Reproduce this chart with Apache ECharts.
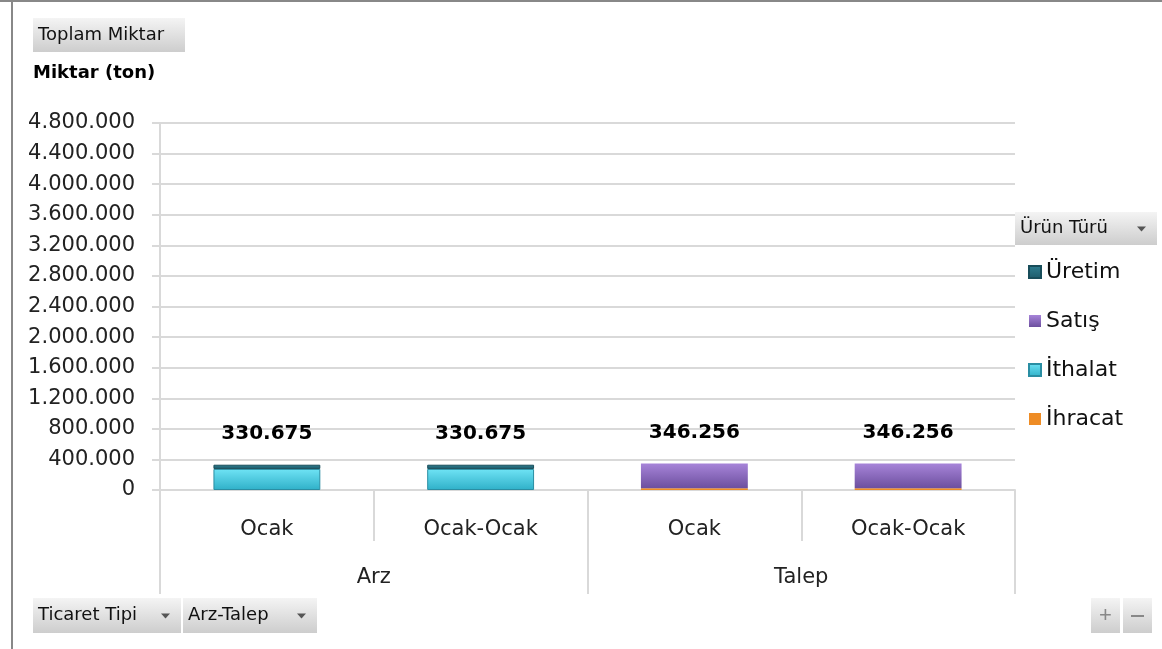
<!DOCTYPE html>
<html>
<head>
<meta charset="utf-8">
<script src="https://cdn.jsdelivr.net/npm/echarts@6/dist/echarts.min.js"></script>
<style>
  html, body { margin: 0; padding: 0; background: #fff; }
  #chart { width: 1162px; height: 649px; }
</style>
</head>
<body>
<div id="chart"></div>
<script>
// aylar ve ticaret tipi
const categories = ['Ocak', 'Ocak-Ocak', 'Ocak', 'Ocak-Ocak']
const groups = ['Arz', 'Talep']
// seriler (ton)
const uretim = [55000, 55000, null, null]
const satis = [null, null, 324256, 324256]
const ithalat = [275675, 275675, null, null]
const ihracat = [null, null, 22000, 22000]
const totals = [330675, 330675, 346256, 346256]
const legendOrder = ['Üretim', 'Satış', 'İthalat', 'İhracat']

const FONT = '"DejaVu Sans", sans-serif'

function fmt(v) {
  return String(v).replace(/\B(?=(\d{3})+(?!\d))/g, '.')
}

function grad(top, bottom) {
  return new echarts.graphic.LinearGradient(0, 0, 0, 1, [
    {offset: 0, color: top},
    {offset: 1, color: bottom}
  ])
}

const totalLabel = {
  show: true,
  position: 'top',
  distance: 21,
  fontFamily: FONT,
  fontSize: 20,
  fontWeight: 'bold',
  color: '#000',
  formatter: function (p) {
    return fmt(totals[p.dataIndex])
  }
}

function button(x, y, w, h, text, arrow) {
  const els = [{
    type: 'rect',
    shape: {x: x, y: y, width: w, height: h},
    style: {fill: grad('#f4f4f4', '#cdcdcd')}
  }, {
    type: 'text',
    style: {x: x + 5, y: y + h / 2, text: text, fontFamily: FONT, fontSize: 18,
      fill: '#111', verticalAlign: 'middle'}
  }]
  if (arrow) {
    const ax = x + w - 20, ay = y + h / 2
    els.push({
      type: 'polygon',
      shape: {points: [[ax, ay - 2], [ax + 9, ay - 2], [ax + 4.5, ay + 3]]},
      style: {fill: '#555'}
    })
  }
  return els
}

const chart = echarts.init(document.getElementById('chart'))
const option = {
  animation: false,
  textStyle: {fontFamily: FONT},
  grid: {left: 160, right: 147, top: 123, bottom: 159},
  legend: {
    orient: 'vertical',
    left: 1028,
    top: 261,
    padding: 0,
    itemWidth: 12,
    itemHeight: 12,
    itemGap: 27,
    icon: 'rect',
    data: legendOrder,
    textStyle: {fontFamily: FONT, fontSize: 22, color: '#111'}
  },
  xAxis: [{
    type: 'category',
    data: categories,
    axisLine: {lineStyle: {color: '#d9d9d9', width: 2}},
    axisTick: {show: true, length: 51, interval: 0, lineStyle: {color: '#d9d9d9', width: 2}},
    axisLabel: {margin: 29, fontSize: 21, color: '#222', fontFamily: FONT}
  }, {
    type: 'category',
    data: groups,
    position: 'bottom',
    axisLine: {show: false},
    axisTick: {show: true, length: 104, lineStyle: {color: '#d9d9d9', width: 2}},
    axisLabel: {margin: 77, fontSize: 21, color: '#222', fontFamily: FONT}
  }],
  yAxis: {
    type: 'value',
    min: 0,
    max: 4800000,
    interval: 400000,
    axisLine: {show: true, lineStyle: {color: '#d9d9d9', width: 2}},
    axisTick: {show: true, length: 8, lineStyle: {color: '#d9d9d9', width: 2}},
    splitLine: {lineStyle: {color: '#d9d9d9', width: 2}},
    axisLabel: {margin: 25, fontSize: 21, color: '#222', fontFamily: FONT, formatter: fmt}
  },
  series: [{
    name: 'İhracat', type: 'bar', stack: 'toplam', barWidth: '50%', data: ihracat,
    itemStyle: {color: '#ee8c25'}
  }, {
    name: 'İthalat', type: 'bar', stack: 'toplam', data: ithalat,
    itemStyle: {color: grad('#6fe3f5', '#2fb0c8'), borderColor: '#2a8ea3', borderWidth: 1}
  }, {
    name: 'Satış', type: 'bar', stack: 'toplam', data: satis,
    itemStyle: {color: grad('#a784d9', '#6c4f9e')},
    label: totalLabel
  }, {
    name: 'Üretim', type: 'bar', stack: 'toplam', data: uretim,
    itemStyle: {color: grad('#2f7f92', '#1d5a69'), borderColor: '#184d5a', borderWidth: 1},
    label: totalLabel
  }],
  graphic: [].concat(
    [{type: 'rect', shape: {x: 0, y: 0, width: 1162, height: 2}, style: {fill: '#888'}},
     {type: 'rect', shape: {x: 11, y: 0, width: 2, height: 649}, style: {fill: '#888'}},
     {type: 'text', style: {x: 33, y: 73, text: 'Miktar (ton)', fontFamily: FONT, fontSize: 18,
       fontWeight: 'bold', fill: '#000', verticalAlign: 'middle'}}],
    button(33, 18, 152, 34, 'Toplam Miktar', false),
    button(1015, 212, 142, 33, 'Ürün Türü', true),
    button(33, 598, 148, 35, 'Ticaret Tipi', true),
    button(183, 598, 134, 35, 'Arz-Talep', true),
    button(1091, 598, 29, 35, '', false),
    button(1123, 598, 29, 35, '', false),
    [{type: 'text', style: {x: 1105.5, y: 616, text: '+', fontSize: 22, fill: '#888',
       align: 'center', verticalAlign: 'middle'}},
     {type: 'rect', shape: {x: 1131, y: 615, width: 13, height: 2}, style: {fill: '#888'}}]
  )
}
chart.setOption(option)
window.addEventListener('resize', function () {
  chart.resize()
})
</script>
</body>
</html>
